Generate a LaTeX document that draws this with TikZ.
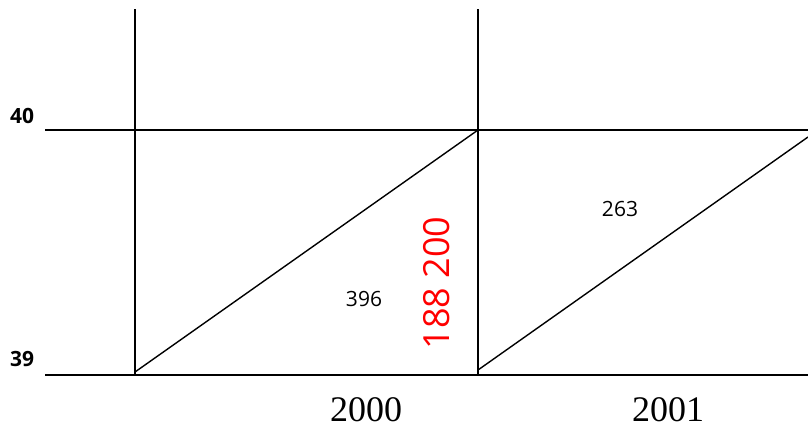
\documentclass[tikz,border=0pt]{standalone}
\usepackage{fontspec}
\setmainfont{Liberation Serif}
\newfontfamily\lblfont{Open Sans}
\begin{document}
\begin{tikzpicture}[x=1pt,y=-1pt,
  gridline/.style={black,line width=1.7pt},
  diagline/.style={black,line width=1.4pt},
  axislbl/.style={font=\lblfont\bfseries\fontsize{21}{24}\selectfont,inner sep=0pt},
  vallbl/.style={font=\lblfont\fontsize{21}{25}\selectfont,inner sep=0pt},
  yearlbl/.style={font=\fontsize{36}{40}\selectfont,inner sep=0pt},
  redlbl/.style={font=\lblfont\fontsize{36}{42}\selectfont,text=red,rotate=90,inner sep=0pt}]
\useasboundingbox (0,0) rectangle (808,429);
% coordinates
\coordinate (v1t) at (135,9);
\coordinate (v1b) at (135,375);
\coordinate (v2t) at (478,9);
\coordinate (v2b) at (478,375);
\coordinate (h1l) at (45,130);
\coordinate (h1r) at (808,130);
\coordinate (h2l) at (45,375);
\coordinate (h2r) at (808,375);
\coordinate (d1a) at (135,372);
\coordinate (d1b) at (478,130);
\coordinate (d2a) at (478,370);
\coordinate (d2b) at (808,137);
% grid
\draw[gridline] (v1t) -- (v1b);
\draw[gridline] (v2t) -- (v2b);
\draw[gridline] (h1l) -- (h1r);
\draw[gridline] (h2l) -- (h2r);
% diagonals
\draw[diagline] (d1a) -- (d1b);
\draw[diagline] (d2a) -- (d2b);
% labels
\node[axislbl] (l40) at (22,116) {40};
\node[axislbl] (l39) at (22,359) {39};
\node[vallbl] (n396) at (364,299) {396};
\node[vallbl] (n263) at (620,209) {263};
\node[redlbl] (red) at (437,283) {188 200};
\node[yearlbl] (y2000) at (366,410) {2000};
\node[yearlbl] (y2001) at (668,410) {2001};
\end{tikzpicture}
\end{document}
